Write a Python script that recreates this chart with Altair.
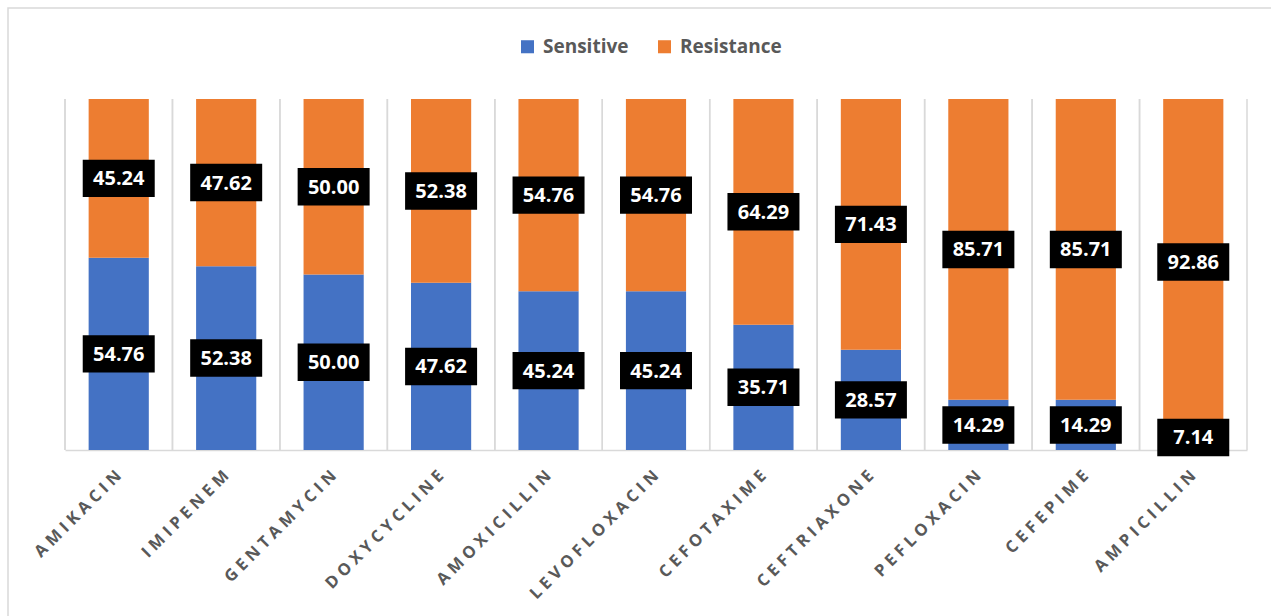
import altair as alt
import pandas as pd

drugs = ["AMIKACIN", "IMIPENEM", "GENTAMYCIN", "DOXYCYCLINE", "AMOXICILLIN",
         "LEVOFLOXACIN", "CEFOTAXIME", "CEFTRIAXONE", "PEFLOXACIN", "CEFEPIME", "AMPICILLIN"]
sensitive = [54.76, 52.38, 50.00, 47.62, 45.24, 45.24, 35.71, 28.57, 14.29, 14.29, 7.14]
resistance = [45.24, 47.62, 50.00, 52.38, 54.76, 54.76, 64.29, 71.43, 85.71, 85.71, 92.86]
series = ["Sensitive", "Resistance"]
colors = ["#4472C4", "#ED7D31"]

rows = []
for d, s, r in zip(drugs, sensitive, resistance):
    rows.append({"drug": d, "series": "Sensitive", "value": s, "ord": 0, "mid": s / 2})
    rows.append({"drug": d, "series": "Resistance", "value": r, "ord": 1, "mid": s + r / 2})
df = pd.DataFrame(rows)

W, H = 1182, 351
PL, PT, PR, PB = 65, 99, 24, 166

xscale = alt.Scale(domain=drugs, paddingInner=0, paddingOuter=0)
yscale = alt.Scale(domain=[0, 100], nice=False)

x_axis = alt.Axis(
    title=None, grid=False, ticks=False, domain=True, domainColor="#d9d9d9", domainWidth=1.5,
    labelAngle=-45, labelAlign="right", labelBaseline="middle", labelPadding=23,
    labelFont="Open Sans", labelFontSize=16.5, labelFontWeight="bold", labelColor="#595959",
    labelExpr="join(split(datum.label, ''), '\u2009\u200a')",
)

base = alt.Chart(df)

bars = base.mark_bar(width=alt.RelativeBandSize(0.56)).encode(
    x=alt.X("drug:N", scale=xscale, axis=x_axis),
    y=alt.Y("value:Q", stack="zero", scale=yscale, axis=None),
    color=alt.Color("series:N", scale=alt.Scale(domain=series, range=colors),
                    legend=alt.Legend(title=None, orient="none", legendX=453, legendY=-62,
                                      direction="horizontal", symbolType="square",
                                      symbolSize=170, symbolStrokeWidth=0,
                                      labelFont="Open Sans", labelFontSize=19,
                                      labelFontWeight="bold", labelColor="#595959",
                                      columnPadding=26, labelOffset=6)),
    order=alt.Order("ord:Q"),
)

grid = base.mark_rule(color="#d9d9d9", strokeWidth=1.5).encode(
    x=alt.X("drug:N", scale=xscale, bandPosition=0),
    y=alt.value(0), y2=alt.value(H),
)
right_edge = alt.Chart(pd.DataFrame({"a": [0]})).mark_rule(color="#d9d9d9", strokeWidth=1.5).encode(
    x=alt.value(W), y=alt.value(0), y2=alt.value(H)
)

box_path = "M-1,-0.52L1,-0.52L1,0.52L-1,0.52Z"
boxes = base.mark_point(shape=box_path, size=72 * 72, filled=True, color="black",
                        opacity=1, strokeWidth=0).encode(
    x=alt.X("drug:N", scale=xscale),
    y=alt.Y("mid:Q", scale=yscale),
)

labels = base.mark_text(color="white", fontWeight="bold", fontSize=20, font="Open Sans",
                        baseline="middle", align="center", dy=1).encode(
    x=alt.X("drug:N", scale=xscale),
    y=alt.Y("mid:Q", scale=yscale),
    text=alt.Text("value:Q", format=".2f"),
)

border = alt.Chart(pd.DataFrame({"a": [0]})).mark_rect(
    fillOpacity=0, stroke="#d9d9d9", strokeWidth=1.5).encode(
    x=alt.value(8 - PL), x2=alt.value(W + PR + 10),
    y=alt.value(8 - PT), y2=alt.value(H + PB + 10),
)

chart = alt.layer(bars, border, grid, right_edge, boxes, labels).properties(
    width=W, height=H,
    autosize=alt.AutoSizeParams(type="none"),
    padding={"left": PL, "top": PT, "right": PR, "bottom": PB},
    background="white",
).configure_view(stroke=None)

chart.save("out.html", embed_options={"renderer": "svg", "actions": False})
